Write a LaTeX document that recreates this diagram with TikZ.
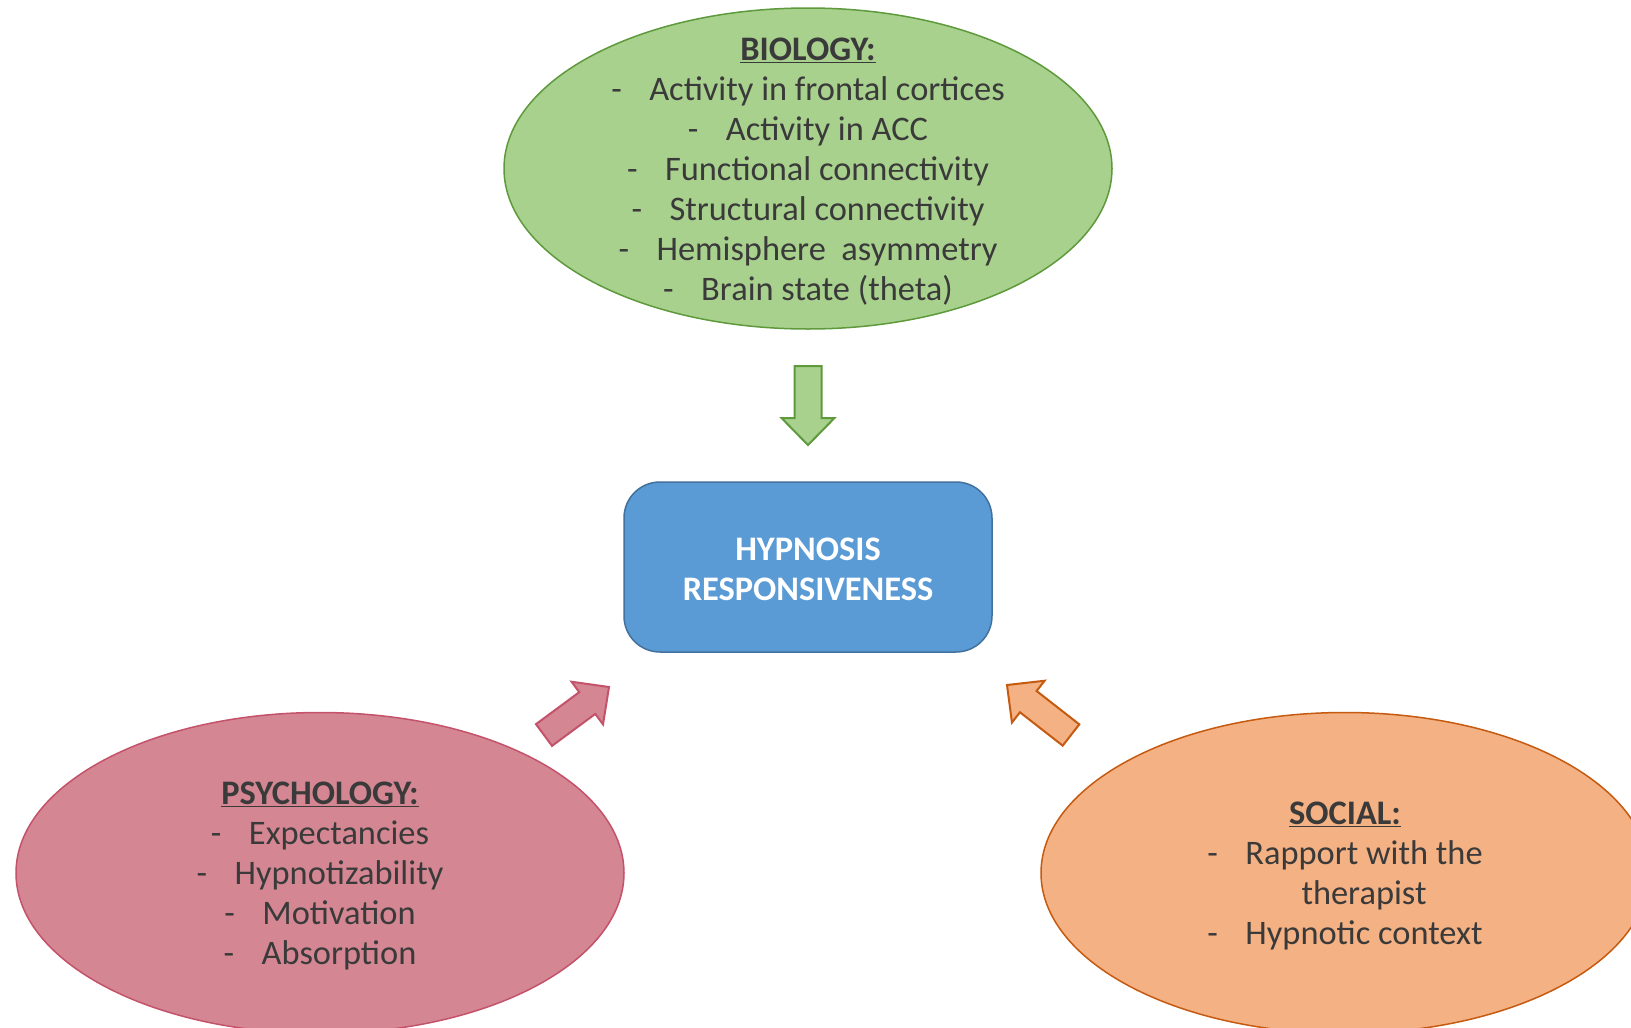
\documentclass[tikz,border=0pt]{standalone}
\usepackage{fontspec}
\setmainfont{Carlito}
\usetikzlibrary{shapes.geometric,calc}
\definecolor{bioFill}{HTML}{A9D18E}
\definecolor{bioLine}{HTML}{5E9A3C}
\definecolor{psyFill}{HTML}{D48793}
\definecolor{psyLine}{HTML}{C4526A}
\definecolor{socFill}{HTML}{F4B183}
\definecolor{socLine}{HTML}{C55A11}
\definecolor{boxFill}{HTML}{5B9BD5}
\definecolor{boxLine}{HTML}{41719C}
\definecolor{txtGray}{HTML}{3A3A3A}
\newcommand\bl{-\hspace{0.8em}}
\newcommand\blockarrow[3]{%
  \coordinate (#1base) at ($(#2)!27pt!(#1)$);
  \draw[#3] ($(#1)!13.5pt!90:(#2)$) -- ($(#1base)!13.5pt!90:(#2)$)
    -- ($(#1base)!26.5pt!90:(#2)$) -- (#2)
    -- ($(#1base)!26.5pt!-90:(#2)$) -- ($(#1base)!13.5pt!-90:(#2)$)
    -- ($(#1)!13.5pt!-90:(#2)$) -- cycle;}
\begin{document}
\begin{tikzpicture}[x=1pt,y=-1pt,
  oval/.style={ellipse, line width=1.5pt, minimum width=608pt, minimum height=321pt, inner sep=0pt},
  bodytext/.style={text=txtGray, font=\fontsize{34.4}{40}\selectfont, align=center, inner sep=0pt},
  blk/.style={line width=2pt, line join=miter}]
\clip (0,0) rectangle (1631,1028);
\fill[white] (0,0) rectangle (1631,1028);

\node[oval, draw=bioLine, fill=bioFill] (bio) at (808,168.5) {};
\node[oval, draw=psyLine, fill=psyFill] (psy) at (320,873) {};
\node[oval, draw=socLine, fill=socFill] (soc) at (1345,873) {};

\node[rounded corners=36pt, draw=boxLine, fill=boxFill, line width=1.5pt,
  minimum width=368pt, minimum height=170pt] (hyp) at (808,567) {};
\node[text=white, font=\bfseries\fontsize{34.4}{40}\selectfont, align=center, inner sep=0pt]
  (hyptext) at ($(hyp.center)+(0,2)$) {HYPNOSIS\\RESPONSIVENESS};

\coordinate (gT) at (808,366);
\coordinate (gP) at (808,445);
\coordinate (pT) at (544,735);
\coordinate (pP) at (609,687);
\coordinate (oT) at (1071,735);
\coordinate (oP) at (1007,685);
\blockarrow{gT}{gP}{blk, draw=bioLine, fill=bioFill}
\blockarrow{pT}{pP}{blk, draw=psyLine, fill=psyFill}
\blockarrow{oT}{oP}{blk, draw=socLine, fill=socFill}

\node[bodytext] (biotext) at ($(bio.center)+(0,3)$) {\textbf{\underline{BIOLOGY:}}\\
\bl Activity in frontal cortices\\
\bl Activity in ACC\\
\bl Functional connectivity\\
\bl Structural connectivity\\
\bl Hemisphere\ \ asymmetry\\
\bl Brain state (theta)};

\node[bodytext] (psytext) at ($(psy.center)+(0,3)$) {\textbf{\underline{PSYCHOLOGY:}}\\
\bl Expectancies\\
\bl Hypnotizability\\
\bl Motivation\\
\bl Absorption};

\node[bodytext] (soctext) at ($(soc.center)+(0,3)$) {\textbf{\underline{SOCIAL:}}\\
\bl Rapport with the\\
\phantom{-}\hspace{0.8em}therapist\\
\bl Hypnotic context};
\end{tikzpicture}
\end{document}
